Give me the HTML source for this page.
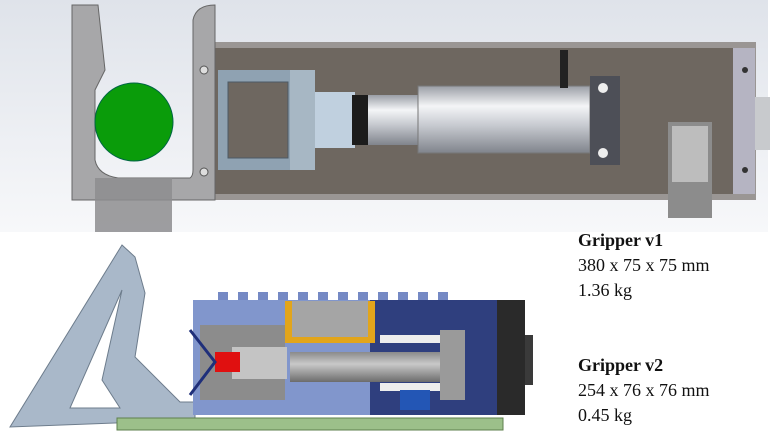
<!DOCTYPE html>
<html><head><meta charset="utf-8"><style>
html,body{margin:0;padding:0;background:#fff;width:783px;height:442px;overflow:hidden}
.t{font-family:"Liberation Serif",serif;font-size:18px;fill:#111}
.b{font-weight:bold}
</style></head><body>
<svg width="783" height="442" viewBox="0 0 783 442" xmlns="http://www.w3.org/2000/svg">
<defs>
<linearGradient id="bg" x1="0" y1="0" x2="0" y2="1"><stop offset="0" stop-color="#dfe3ea"/><stop offset="1" stop-color="#f7f8fa"/></linearGradient>
<linearGradient id="cyl" x1="0" y1="0" x2="0" y2="1"><stop offset="0" stop-color="#9a9ea6"/><stop offset=".3" stop-color="#f4f5f7"/><stop offset=".6" stop-color="#c5c8ce"/><stop offset="1" stop-color="#80848c"/></linearGradient>
<linearGradient id="rod" x1="0" y1="0" x2="0" y2="1"><stop offset="0" stop-color="#8a8a8a"/><stop offset=".4" stop-color="#c9c9c9"/><stop offset="1" stop-color="#6c6c6c"/></linearGradient>
</defs>
<g>
<rect x="0" y="0" width="768" height="232" fill="url(#bg)"/>
<rect x="212" y="42" width="544" height="158" fill="#9a9694"/>
<rect x="215" y="48" width="535" height="146" fill="#6e6760"/>
<rect x="72" y="194" width="684" height="6" fill="#9a9694"/>
<rect x="755" y="97" width="15" height="53" fill="#c8cacd"/>
<rect x="733" y="48" width="22" height="146" fill="#b5b4c2"/>
<circle cx="745" cy="70" r="3" fill="#333"/><circle cx="745" cy="170" r="3" fill="#333"/>
<rect x="218" y="70" width="97" height="100" fill="#8fa2b2"/>
<rect x="228" y="82" width="60" height="76" fill="#6e6760" stroke="#4c5a66"/>
<rect x="290" y="70" width="25" height="100" fill="#a7b7c4"/>
<rect x="315" y="92" width="40" height="56" fill="#c0d0df"/>
<rect x="352" y="95" width="68" height="50" fill="url(#cyl)"/>
<rect x="352" y="95" width="16" height="50" fill="#1c1c1c"/>
<rect x="418" y="86" width="172" height="67" fill="url(#cyl)" stroke="#777"/>
<rect x="560" y="50" width="8" height="38" fill="#222"/>
<rect x="590" y="76" width="30" height="89" fill="#4d4f57"/>
<circle cx="603" cy="88" r="5" fill="#eee"/><circle cx="603" cy="153" r="5" fill="#eee"/>
<rect x="668" y="122" width="44" height="96" fill="#8c8c8c"/>
<rect x="672" y="126" width="36" height="56" fill="#bdbdbd"/>
<path d="M72 5 L98 5 L105 70 L95 90 L95 160 Q98 175 118 178 L190 178 Q193 176 193 170 L193 20 Q196 5 215 5 L215 200 L72 200 Z" fill="#a7a7a9" stroke="#666" stroke-width="1"/>
<rect x="95" y="178" width="77" height="54" fill="#8d8d8f" opacity="0.85"/>
<circle cx="204" cy="70" r="4" fill="#ddd" stroke="#555"/><circle cx="204" cy="172" r="4" fill="#ddd" stroke="#555"/>
<ellipse cx="134" cy="122" rx="39" ry="39" fill="#0a9c0a" stroke="#064" />
</g>
<g>
<path d="M122 245 L135 257 L145 293 L135 357 L180 402 L195 402 L195 420 L10 427 Z M122 290 L70 408 L120 408 L102 380 Z" fill="#a9b8c9" fill-rule="evenodd" stroke="#6d7c8c"/>
<rect x="117" y="418" width="386" height="12" fill="#9cc08a" stroke="#5e7f4d"/>
<path d="M218 300 v-8 h10 v8 h10 v-8 h10 v8 h10 v-8 h10 v8 h10 v-8 h10 v8 h10 v-8 h10 v8 h10 v-8 h10 v8 h10 v-8 h10 v8 h10 v-8 h10 v8 h10 v-8 h10 v8 h10 v-8 h10 v8 h10 v-8 h10 v8 h10 v-8 h10 v8 h-10 z" fill="#7589c4"/>
<rect x="193" y="300" width="177" height="115" fill="#8196cc"/>
<rect x="370" y="300" width="127" height="115" fill="#2f3f7e"/>
<rect x="497" y="300" width="28" height="115" fill="#2a2a2a"/>
<rect x="525" y="335" width="8" height="50" fill="#3a3a3a"/>
<rect x="285" y="301" width="90" height="42" fill="#e2a51b"/>
<rect x="292" y="301" width="76" height="36" fill="#a5a5a5"/>
<rect x="200" y="325" width="85" height="75" fill="#8c8c8c"/>
<rect x="232" y="347" width="55" height="32" fill="#c4c4c4"/>
<rect x="215" y="352" width="25" height="20" fill="#e01010"/>
<rect x="290" y="352" width="160" height="30" fill="url(#rod)"/>
<rect x="380" y="335" width="75" height="8" fill="#ededed"/>
<rect x="380" y="383" width="75" height="8" fill="#ededed"/>
<rect x="440" y="330" width="25" height="70" fill="#9a9a9a"/>
<rect x="400" y="390" width="30" height="20" fill="#2356b5"/>
<path d="M190 330 L215 362 L190 395" fill="none" stroke="#1f2f7a" stroke-width="3"/>
</g>
<g>
<text class="t b" x="578" y="246">Gripper v1</text>
<text class="t" x="578" y="271">380 x 75 x 75 mm</text>
<text class="t" x="578" y="296">1.36 kg</text>
<text class="t b" x="578" y="371">Gripper v2</text>
<text class="t" x="578" y="396">254 x 76 x 76 mm</text>
<text class="t" x="578" y="421">0.45 kg</text>
</g>
</svg>
</body></html>
